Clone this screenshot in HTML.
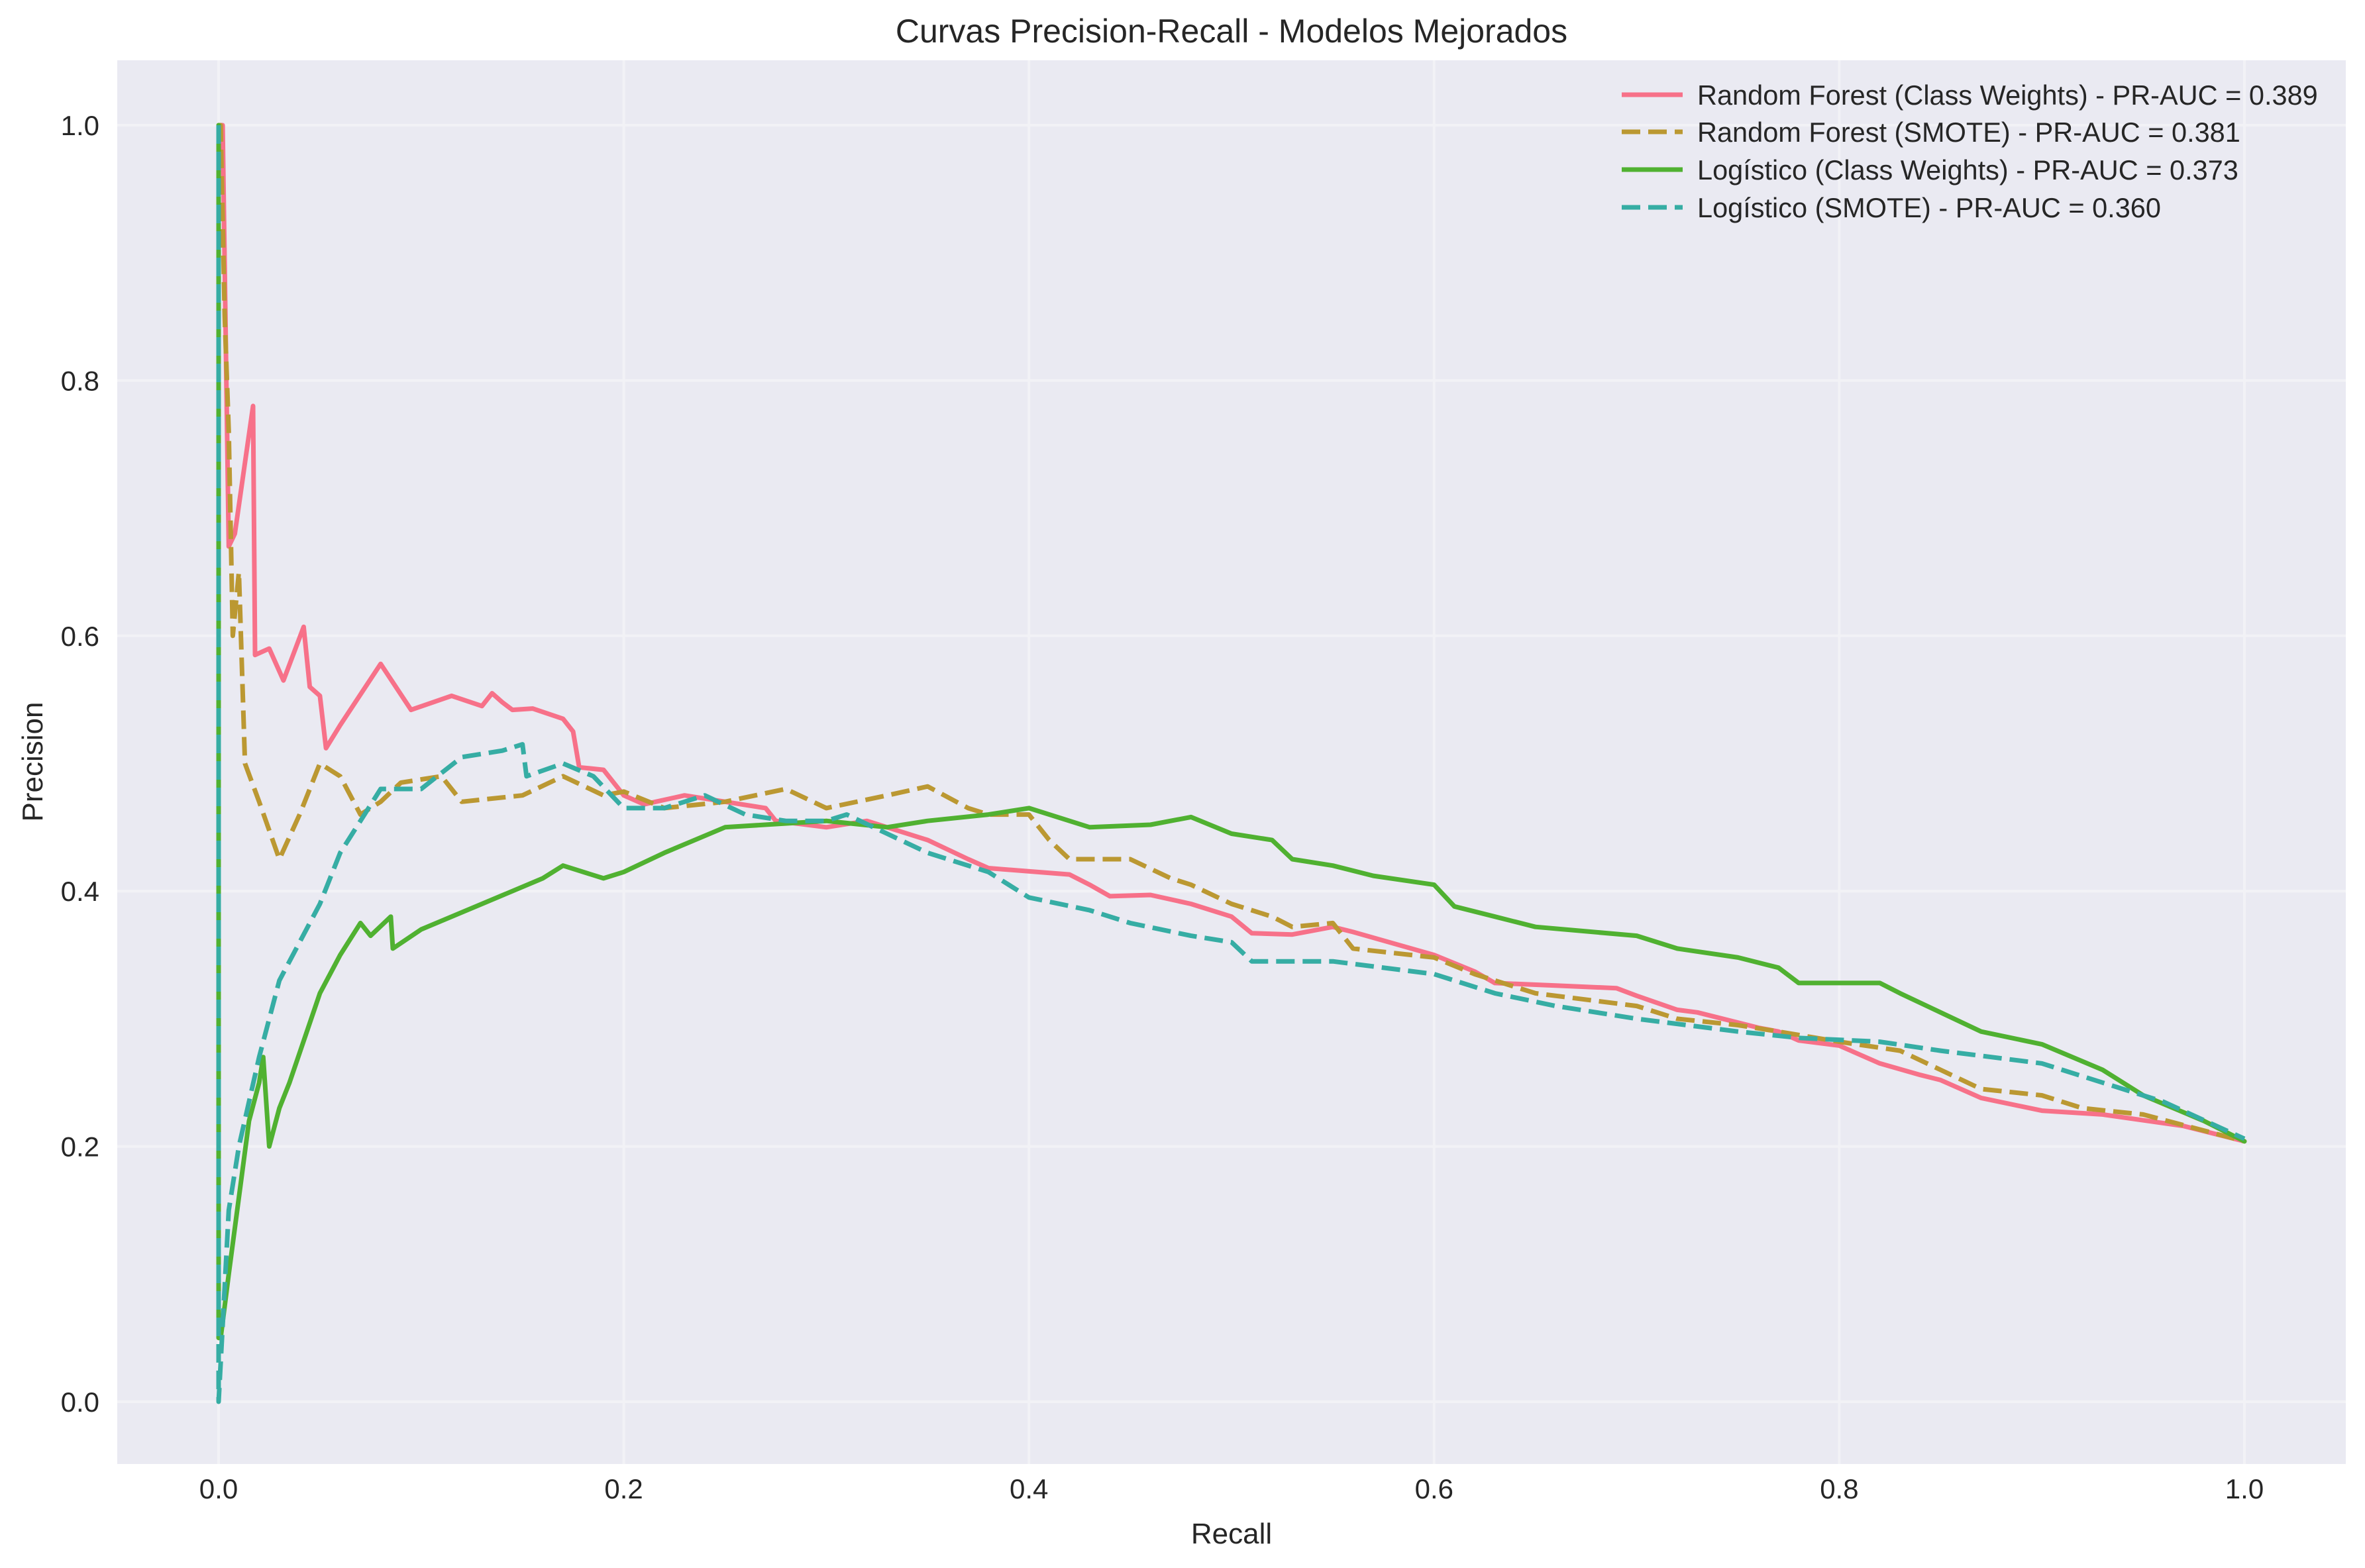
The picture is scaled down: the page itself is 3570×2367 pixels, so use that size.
<!DOCTYPE html>
<html><head><meta charset="utf-8"><style>
html,body{margin:0;padding:0;background:#fff;}
svg{display:block;font-family:"Liberation Sans",Arial,sans-serif;}
</style></head><body>
<svg id="chart" width="3570" height="2367" viewBox="0 0 3570 2367" xmlns="http://www.w3.org/2000/svg">
<rect x="177" y="91" width="3364" height="2119" fill="#EAEAF2"/>
<g id="grid"></g>
<g id="series"></g>
<g id="ticks"></g>
<text x="1859" y="64" font-size="50" text-anchor="middle" fill="#262626">Curvas Precision-Recall - Modelos Mejorados</text>
<text x="1859" y="2330" font-size="44" text-anchor="middle" fill="#262626">Recall</text>
<text x="0" y="0" font-size="44" text-anchor="middle" fill="#262626" transform="translate(64,1150) rotate(-90)">Precision</text>
<g id="legend"></g>
</svg>
<script>
const xTicks = [0, 0.2, 0.4, 0.6, 0.8, 1.0];
const yTicks = [0, 0.2, 0.4, 0.6, 0.8, 1.0];
const tickLabels = ["0.0","0.2","0.4","0.6","0.8","1.0"];
const seriesNames = ["Random Forest (Class Weights) - PR-AUC = 0.389","Random Forest (SMOTE) - PR-AUC = 0.381","Logístico (Class Weights) - PR-AUC = 0.373","Logístico (SMOTE) - PR-AUC = 0.360"];
const rfcwRecall = [0,0.002,0.005,0.008,0.017,0.018,0.025,0.032,0.042,0.045,0.05,0.053,0.06,0.08,0.095,0.115,0.13,0.135,0.14,0.145,0.155,0.17,0.175,0.178,0.19,0.2,0.21,0.23,0.27,0.275,0.3,0.32,0.35,0.37,0.38,0.42,0.43,0.44,0.46,0.48,0.5,0.51,0.53,0.55,0.56,0.6,0.62,0.63,0.66,0.69,0.7,0.72,0.73,0.76,0.77,0.78,0.8,0.82,0.84,0.85,0.87,0.9,0.93,0.97,1.0];
const rfcwPrec = [1,1,0.67,0.68,0.78,0.585,0.59,0.565,0.607,0.56,0.553,0.512,0.53,0.578,0.542,0.553,0.545,0.555,0.548,0.542,0.543,0.535,0.525,0.497,0.495,0.475,0.468,0.475,0.465,0.455,0.45,0.455,0.44,0.425,0.418,0.413,0.405,0.396,0.397,0.39,0.38,0.367,0.366,0.372,0.368,0.35,0.337,0.328,0.326,0.324,0.318,0.307,0.305,0.293,0.29,0.283,0.279,0.265,0.256,0.252,0.238,0.228,0.225,0.216,0.204];
const rfsmRecall = [0,0.001,0.003,0.005,0.007,0.01,0.013,0.02,0.03,0.04,0.05,0.06,0.07,0.08,0.09,0.11,0.12,0.15,0.17,0.19,0.2,0.22,0.25,0.28,0.3,0.33,0.35,0.37,0.38,0.4,0.41,0.42,0.45,0.47,0.48,0.5,0.52,0.53,0.55,0.56,0.6,0.62,0.65,0.7,0.72,0.75,0.77,0.8,0.83,0.85,0.87,0.9,0.92,0.95,1.0];
const rfsmPrec = [1,1,0.85,0.76,0.6,0.65,0.5,0.47,0.425,0.46,0.5,0.49,0.46,0.47,0.485,0.49,0.47,0.475,0.49,0.475,0.478,0.465,0.47,0.48,0.465,0.475,0.482,0.465,0.46,0.46,0.44,0.425,0.425,0.41,0.405,0.39,0.38,0.372,0.375,0.355,0.348,0.335,0.32,0.31,0.3,0.295,0.29,0.282,0.275,0.26,0.245,0.24,0.23,0.225,0.204];
const lgcwRecall = [0,0,0.001,0.005,0.01,0.015,0.02,0.022,0.025,0.03,0.035,0.05,0.06,0.07,0.075,0.085,0.086,0.1,0.13,0.16,0.17,0.19,0.2,0.22,0.25,0.3,0.33,0.35,0.38,0.4,0.43,0.46,0.48,0.5,0.52,0.53,0.55,0.57,0.6,0.61,0.63,0.65,0.7,0.72,0.75,0.77,0.78,0.82,0.83,0.85,0.87,0.9,0.93,0.95,0.98,1.0];
const lgcwPrec = [1,0.05,0.05,0.1,0.16,0.22,0.25,0.27,0.2,0.23,0.25,0.32,0.35,0.375,0.365,0.38,0.355,0.37,0.39,0.41,0.42,0.41,0.415,0.43,0.45,0.455,0.45,0.455,0.46,0.465,0.45,0.452,0.458,0.445,0.44,0.425,0.42,0.412,0.405,0.388,0.38,0.372,0.365,0.355,0.348,0.34,0.328,0.328,0.32,0.305,0.29,0.28,0.26,0.24,0.22,0.204];
const lgsmRecall = [0,0,0.005,0.01,0.02,0.03,0.04,0.05,0.06,0.07,0.08,0.1,0.12,0.14,0.15,0.152,0.17,0.185,0.2,0.22,0.24,0.26,0.28,0.3,0.31,0.33,0.35,0.38,0.4,0.43,0.45,0.48,0.5,0.51,0.55,0.6,0.63,0.66,0.7,0.75,0.78,0.82,0.85,0.9,0.93,0.96,1.0];
const lgsmPrec = [1,0,0.15,0.2,0.27,0.33,0.36,0.39,0.43,0.455,0.48,0.48,0.505,0.51,0.515,0.49,0.5,0.49,0.465,0.465,0.475,0.46,0.455,0.455,0.46,0.445,0.43,0.415,0.395,0.385,0.375,0.365,0.36,0.345,0.345,0.335,0.32,0.31,0.3,0.29,0.285,0.282,0.275,0.265,0.25,0.235,0.206];

const NS="http://www.w3.org/2000/svg";
const X0=330, XS=3058, Y0=2116, YS=1927;
function xs(v){return X0+v*XS;}
function ys(v){return Y0-v*YS;}
function mk(tag,attrs,parent){const e=document.createElementNS(NS,tag);for(const k in attrs)e.setAttribute(k,attrs[k]);parent.appendChild(e);return e;}
const grid=document.getElementById('grid'), ticks=document.getElementById('ticks');
xTicks.forEach((t,i)=>{
  const l=mk('line',{x1:xs(t),x2:xs(t),y1:91,y2:2210,stroke:'#f2f2f6','stroke-width':4},grid);
  
  
  const tx=mk('text',{x:xs(t),y:2262,'font-size':42,'text-anchor':'middle',fill:'#262626'},ticks);
  tx.textContent=tickLabels[i];
  
  
});
yTicks.forEach((t,i)=>{
  const l=mk('line',{x1:177,x2:3541,y1:ys(t),y2:ys(t),stroke:'#f2f2f6','stroke-width':4},grid);
  
  
  const tx=mk('text',{x:150,y:ys(t)+15,'font-size':42,'text-anchor':'end',fill:'#262626'},ticks);
  tx.textContent=tickLabels[i];
  
  
});
const colors=['#f77189','#bb9832','#50b131','#36ada4'];
const dashes=['none','28 12','none','28 12'];
const data=[[rfcwRecall,rfcwPrec],[rfsmRecall,rfsmPrec],[lgcwRecall,lgcwPrec],[lgsmRecall,lgsmPrec]];
const sg=document.getElementById('series');
const names=['rf-class-weights-line','rf-smote-line','logistic-class-weights-line','logistic-smote-line'];
data.forEach((d,i)=>{
  const pts=d[0].map((r,j)=>xs(r).toFixed(1)+','+ys(d[1][j]).toFixed(1)).join(' ');
  const p=mk('polyline',{points:pts,fill:'none',stroke:colors[i],'stroke-width':7,'stroke-linejoin':'round','stroke-linecap':dashes[i]==='none'?'round':'butt','stroke-dasharray':dashes[i]},sg);
  
  
});
const lg=document.getElementById('legend');
const ly=[143,199,256,313];
seriesNames.forEach((n,i)=>{
  const l=mk('line',{x1:2448,x2:2540,y1:ly[i],y2:ly[i],stroke:colors[i],'stroke-width':7,'stroke-dasharray':dashes[i]},lg);
  
  
  const t=mk('text',{x:2562,y:ly[i]+15,'font-size':41.5,fill:'#262626'},lg);
  t.textContent=n;
  
  
});
</script>
</body></html>
